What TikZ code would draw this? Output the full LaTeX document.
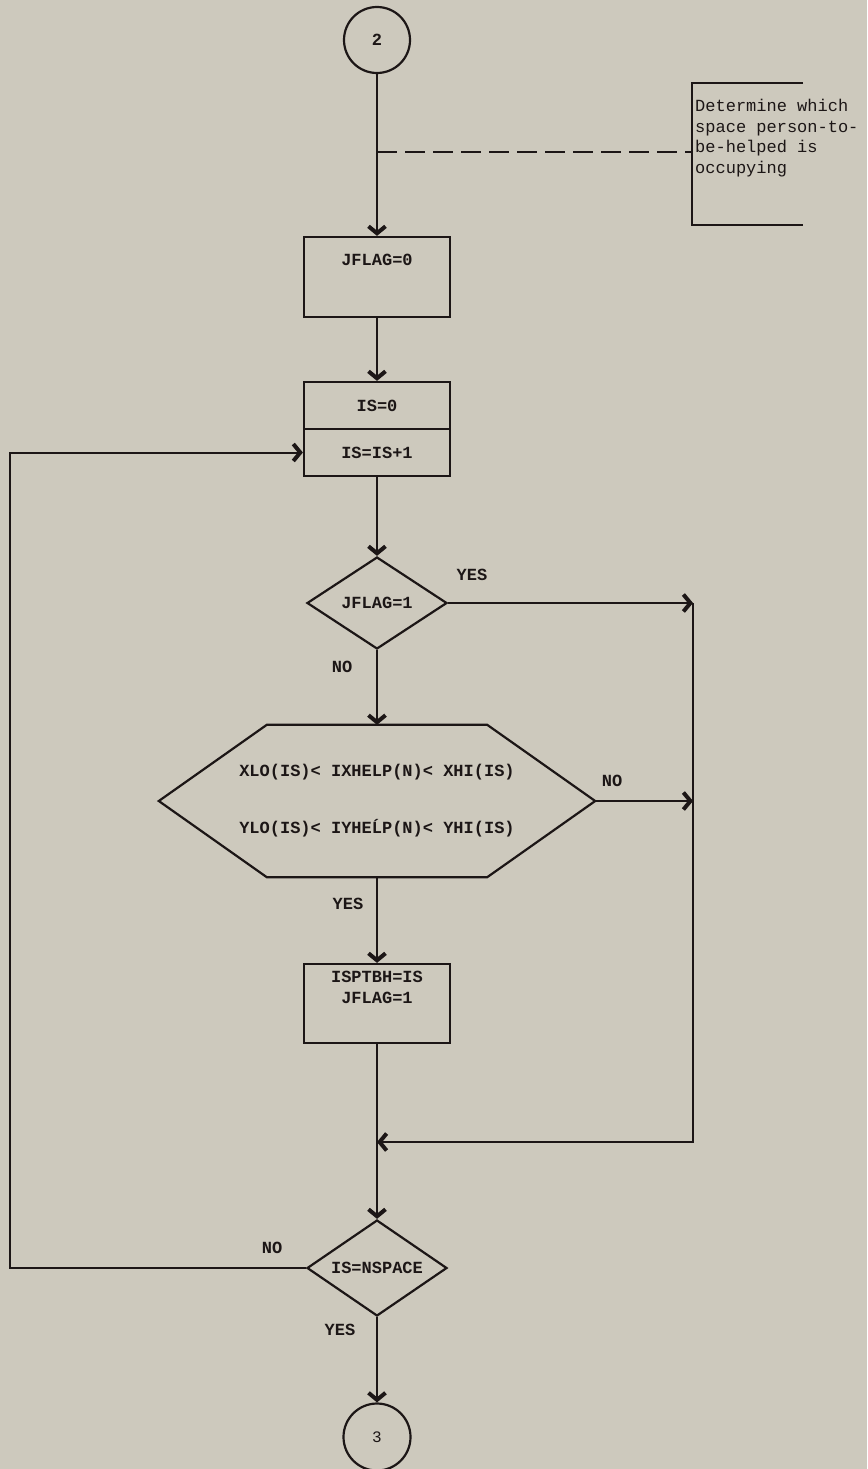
\documentclass[tikz,border=0pt]{standalone}
\usepackage{fontspec}
\newfontfamily\fcfont{Liberation Mono}
\usetikzlibrary{arrows.meta,shapes.geometric}
\definecolor{paper}{RGB}{205,201,189}
\definecolor{ink}{RGB}{28,22,22}
\begin{document}
\begin{tikzpicture}[x=1pt,y=-1pt,
  every node/.style={font=\fcfont\bfseries\fontsize{17}{20}\selectfont, text=ink},
  box/.style={draw=ink, line width=2.2pt, rectangle, minimum width=146pt, inner sep=0pt},
  dec/.style={draw=ink, line width=2.2pt, diamond, aspect=1.5, minimum width=140pt, minimum height=92pt, inner sep=0pt},
  term/.style={draw=ink, line width=2.2pt, circle, minimum size=66pt, inner sep=0pt},
  lbl/.style={inner sep=0pt},
  link/.style={draw=ink, line width=2pt},
  arr/.style={link, -{Straight Barb[length=7pt,width=17pt,line width=4pt]}},
]
\useasboundingbox (0,0) rectangle (867,1469);
\fill[paper] (0,0) rectangle (867,1469);

% nodes
\node[term] (c2) at (377,40) {2};
\node[box, minimum height=80pt, label={[lbl,yshift=17pt]center:JFLAG=0}] (b0) at (377,277) {};
\node[box, minimum height=47pt] (is0) at (377,405.5) {IS=0};
\node[box, minimum height=47pt] (is1) at (377,452.5) {IS=IS+1};
\node[dec] (d1) at (377,603) {JFLAG=1};
\node[minimum width=436pt, minimum height=152pt, align=center, inner sep=0pt] (hex) at (377,801)
  {XLO(IS)< IXHELP(N)< XHI(IS)\\[37pt]YLO(IS)< IYHEĹP(N)< YHI(IS)};
\draw[link, line width=2.2pt] (hex.west) -- ([xshift=108pt]hex.north west) -- ([xshift=-108pt]hex.north east)
  -- (hex.east) -- ([xshift=-108pt]hex.south east) -- ([xshift=108pt]hex.south west) -- cycle;
\node[box, minimum height=79pt, label={[lbl,yshift=16pt,align=center]center:ISPTBH=IS\\[1pt]JFLAG=1}] (b2) at (377,1003.5) {};
\node[dec, minimum height=96pt] (d2) at (377,1268) {IS=NSPACE};
\node[term, minimum size=67pt, font=\fcfont\fontsize{16}{18}\selectfont] (c3) at (377,1437) {3};

% annotation
\node[anchor=north west, align=left, inner sep=0pt, font=\fcfont\fontsize{17}{20.5}\selectfont] (note) at (695,99)
  {Determine which\\space person-to-\\be-helped is\\occupying};
\draw[link] (803,83) -- (692,83) -- (692,225) -- (803,225);
\coordinate (nj) at (377,152);
\coordinate (nb) at (692,152);
\draw[link, dash pattern=on 20pt off 8pt] (nj) -- (nb);

% connector points
\coordinate (r1) at (693,603);
\coordinate (r2) at (693,801);
\coordinate (r3) at (693,1142);
\coordinate (m) at (377,1142);
\coordinate (lx) at (10,0);

% connectors
\draw[arr] (c2) -- (b0);
\draw[arr] (b0) -- (is0);
\draw[arr] (is1) -- (d1);
\draw[arr] (d1.south) -- (hex.north);
\draw[arr] (hex.south) -- (b2.north);
\draw[arr] (b2) -- (d2);
\draw[arr] (d2) -- (c3);
\draw[arr] (d1.east) -- (r1);
\draw[arr] (hex.east) -- (r2);
\draw[arr] (r1) -- (r3) -- (m);
\draw[arr] (d2.west) -- (d2.west -| lx) -- (lx |- is1.west) -- (is1.west);

% branch labels
\node[lbl] (y1) at (472,575) {YES};
\node[lbl] (n1) at (342,667) {NO};
\node[lbl] (n2) at (612,781) {NO};
\node[lbl] (y2) at (348,904) {YES};
\node[lbl] (n3) at (272,1248) {NO};
\node[lbl] (y3) at (340,1330) {YES};
\end{tikzpicture}
\end{document}
